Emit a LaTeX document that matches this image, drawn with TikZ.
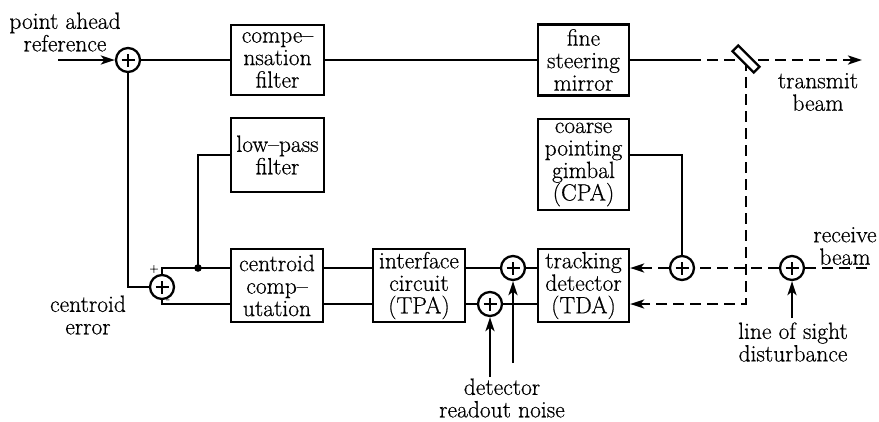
\documentclass[tikz,border=0pt]{standalone}
\usepackage{fontspec}
\setmainfont{Latin Modern Roman}[FakeBold=0.5]
\usetikzlibrary{arrows.meta}
\begin{document}
\begin{tikzpicture}[x=1pt,y=-1pt,
  ln/.style={line width=2.3pt},
  dsh/.style={line width=2.3pt, dash pattern=on 11pt off 6pt},
  arr/.style={-{Stealth[length=14pt,width=9pt,inset=3.5pt]}},
  txt/.style={align=center, inner sep=0pt, font=\fontsize{23.5}{22.5}\selectfont},
  box/.style={draw, line width=2.3pt, align=center, inner sep=0pt, font=\fontsize{23.5}{22.5}\selectfont},
  sumj/.style={circle, draw, line width=2.3pt, minimum size=24pt, inner sep=0pt, fill=white,
    path picture={\draw[line width=2.3pt] (path picture bounding box.center) ++(-6.5pt,0pt) -- ++(13pt,0pt);
                  \draw[line width=2.3pt] (path picture bounding box.center) ++(0pt,-6.5pt) -- ++(0pt,13pt);}},
  sgn/.style={inner sep=0pt, font=\fontsize{12}{12}\selectfont}
]
\useasboundingbox (0,0) rectangle (879,421);

% boxes
\node[box, minimum width=93pt, minimum height=70pt] (comp) at (277.5,60) {compe\textendash\\nsation\\filter};
\node[box, minimum width=91pt, minimum height=71pt] (fsm) at (583.5,60) {fine\\steering\\mirror};
\node[box, minimum width=93pt, minimum height=74pt] (lpf) at (277.5,155) {low\textendash pass\\filter};
\node[box, minimum width=91pt, minimum height=91pt] (cpa) at (583.5,164.5) {coarse\\pointing\\gimbal\\(CPA)};
\node[box, minimum width=92pt, minimum height=73pt] (cc) at (277,285.5) {centroid\\comp\textendash\\utation};
\node[box, minimum width=92pt, minimum height=73pt] (ic) at (419,285.5) {interface\\circuit\\(TPA)};
\node[box, minimum width=91pt, minimum height=73pt] (td) at (583.5,285.5) {tracking\\detector\\(TDA)};

% summing junctions
\node[sumj] (s1) at (128,60) {};
\node[sumj] (s2) at (162,287) {};
\node[sumj] (s3) at (513,268) {};
\node[sumj] (s4) at (490,304) {};
\node[sumj] (s5) at (682,268) {};
\node[sumj] (s6) at (792,268) {};

% coordinates
\coordinate (pa) at (58,60);
\coordinate (tx1) at (690,60);
\coordinate (txend) at (862,60);
\coordinate (dot) at (198,268);
\coordinate (n1) at (490,377);
\coordinate (n2) at (513,363);
\coordinate (rb) at (867,268);
\coordinate (los) at (792,318);

% texts
\node[txt] (tpa) at (65,32) {point ahead\\reference};
\node[txt] (ttb) at (818,92) {transmit\\beam};
\node[txt] (trb) at (845,246) {receive\\beam};
\node[txt] (tlos) at (793,342) {line of sight\\disturbance};
\node[txt] (tdn) at (502,398) {detector\\readout noise};
\node[txt] (tce) at (88,315) {centroid\\error};
\node[sgn] (plus) at (154,269) {+};
\node[sgn] (minus) at (168,301) {-};

% top loop
\draw[ln,arr] (pa) -- (s1.west);
\draw[ln] (s1.east) -- (comp.west);
\draw[ln] (comp.east) -- (fsm.west);
\draw[ln] (fsm.east) -- (tx1);
\draw[dsh,arr] (tx1) -- (txend);
\draw[dsh,arr] (746,60) |- (td.east |- s4.center);

% centroid loop
\draw[ln] (s1.south) |- (s2.west);
\draw[ln] (s2.north) |- (cc.west |- s3.center);
\draw[ln] (s2.south) |- (cc.west |- s4.center);
\draw[ln] (lpf.west) -| (dot);
\fill (dot) circle (3.8pt);
\draw[ln] (cpa.east |- lpf.west) -| (s5.north);

% bottom row
\draw[ln] (cc.east |- s3.center) -- (ic.west |- s3.center);
\draw[ln] (cc.east |- s4.center) -- (ic.west |- s4.center);
\draw[ln] (ic.east |- s3.center) -- (s3.west);
\draw[ln] (s3.east) -- (td.west |- s3.center);
\draw[ln] (ic.east |- s4.center) -- (s4.west);
\draw[ln] (s4.east) -- (td.west |- s4.center);
\draw[ln,arr] (n1) -- (s4.south);
\draw[ln,arr] (n2) -- (s3.south);

% receive path
\draw[dsh,arr] (s5.west) -- (td.east |- s5.west);
\draw[dsh] (s6.west) -- (s5.east);
\draw[dsh] (rb) -- (s6.east);
\draw[ln,arr] (los) -- (s6.south);

% mirror
\node[draw, fill=white, line width=2.3pt, minimum width=30pt, minimum height=8pt, inner sep=0pt, rotate=-45] (mirror) at (746,59) {};
\end{tikzpicture}
\end{document}
